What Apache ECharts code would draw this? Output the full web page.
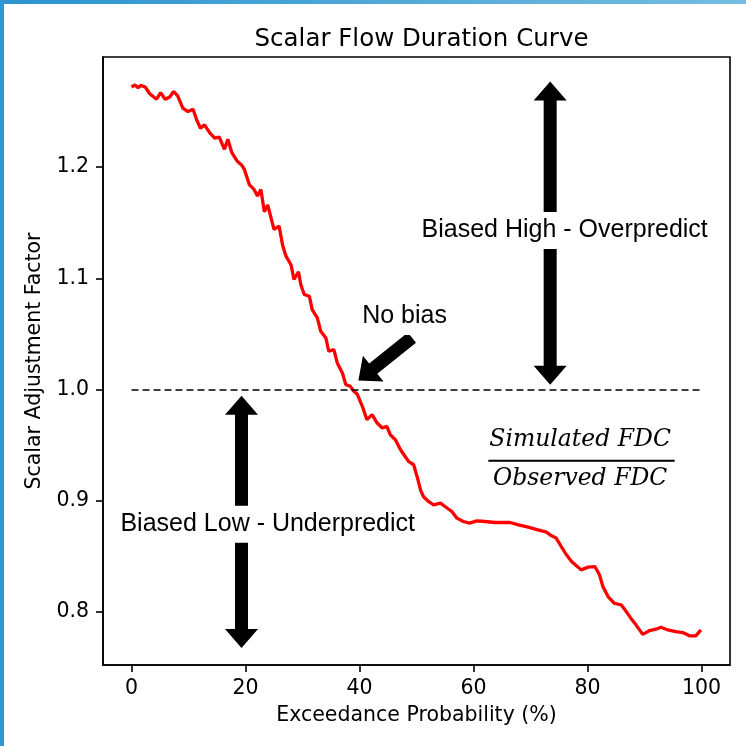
<!DOCTYPE html>
<html>
<head>
<meta charset="utf-8">
<title>Scalar Flow Duration Curve</title>
<script src="https://cdn.jsdelivr.net/npm/echarts@6/dist/echarts.min.js"></script>
<style>
  html, body { margin: 0; padding: 0; background: #fff; }
  #main { width: 746px; height: 746px; }
</style>
</head>
<body>
<div id="main"></div>
<script>
// values
let exceedance = [
    0.0, 0.6, 1.15, 1.6, 2.4, 3.2, 4.4, 5.1, 5.9, 6.7, 7.4, 8.1, 9.0, 9.9, 10.8, 11.4, 12.1, 12.8, 13.7, 14.6,
    15.4, 16.3, 16.9, 17.6, 18.6, 19.3, 19.8, 20.7, 21.5, 22.1, 22.7, 23.3, 23.9, 24.5, 25.0, 25.9, 26.5, 27.1,
    28.0, 28.5, 29.3, 29.7, 30.3, 31.2, 31.7, 32.6, 33.2, 34.1, 34.6, 35.5, 36.1, 37.0, 37.6, 38.4, 39.0, 39.6,
    40.5, 41.3, 42.2, 43.1, 44.0, 44.8, 45.4, 46.3, 47.2, 47.8, 48.6, 49.5, 50.1, 50.7, 51.2, 52.1, 53.0, 54.2,
    55.0, 56.2, 57.1, 58.2, 59.3, 60.6, 62.0, 63.8, 65.5, 66.4, 67.9, 69.6, 71.3, 72.8, 73.7, 74.5, 75.4, 76.3,
    77.2, 78.0, 78.9, 80.1, 81.3, 82.1, 82.7, 83.6, 84.7, 85.9, 86.8, 87.6, 88.5, 89.7, 90.9, 92.0, 92.9, 94.1,
    95.5, 96.7, 97.9, 99.0, 99.9
];
let scalar = [
    1.272, 1.2738, 1.2714, 1.2735, 1.272, 1.266, 1.261, 1.267, 1.261, 1.263, 1.268, 1.264, 1.253, 1.250, 1.252, 1.243, 1.235, 1.238, 1.231, 1.226,
    1.227, 1.216, 1.225, 1.213, 1.205, 1.202, 1.198, 1.184, 1.180, 1.174, 1.180, 1.160, 1.166, 1.154, 1.144, 1.147, 1.130, 1.120,
    1.112, 1.099, 1.106, 1.0945, 1.0855, 1.084, 1.072, 1.0645, 1.0525, 1.0465, 1.0345, 1.036, 1.024, 1.015, 1.0045, 1.003, 0.9985, 0.996,
    0.985, 0.973, 0.9775, 0.970, 0.9655, 0.967, 0.9595, 0.955, 0.946, 0.9415, 0.9355, 0.9325, 0.922, 0.910, 0.904, 0.8995, 0.8965, 0.898,
    0.895, 0.8905, 0.8845, 0.8815, 0.880, 0.882, 0.8815, 0.8806, 0.8806, 0.8806, 0.8785, 0.8765, 0.874, 0.872, 0.8686, 0.8666, 0.859, 0.8516,
    0.8455, 0.842, 0.838, 0.8405, 0.841, 0.8336, 0.823, 0.814, 0.808, 0.8066, 0.8005, 0.7946, 0.7886, 0.780, 0.7835, 0.7847, 0.7865, 0.784,
    0.7825, 0.7817, 0.7787, 0.7787, 0.784
];
let xTicks = [0, 20, 40, 60, 80, 100];
let yTicks = [0.8, 0.9, 1.0, 1.1, 1.2];
let noBiasLevel = 1.0;

// arrows in data units: [fromX, fromY, toX, toY, headAtBothEnds]
let arrows = [
    [73.45, 1.0045, 73.45, 1.277, 1],
    [19.3, 0.7678, 19.3, 0.9945, 1],
    [49.2, 1.0467, 39.8, 1.0083, 0]
];
// notes in data units: [x, y, text]
let notes = [
    [76.0, 1.143, 'Biased High - Overpredict'],
    [23.9, 0.879, 'Biased Low - Underpredict'],
    [47.9, 1.0657, 'No bias']
];
// fraction: [centerX, numeratorY, barY, denominatorY, barFromX, barToX]
let fraction = [[78.7, 0.955, 0.9361, 0.920, 62.6, 95.3]];

function arrowPoints(a, b, both) {
    let w = 6.5, hw = 16.5, hl = 19;
    let dx = b[0] - a[0], dy = b[1] - a[1];
    let len = Math.sqrt(dx * dx + dy * dy);
    let ux = dx / len, uy = dy / len;
    let nx = -uy, ny = ux;
    let p = (base, d, k) => [base[0] + ux * d + nx * k, base[1] + uy * d + ny * k];
    if (both) {
        return [
            a, p(a, hl, hw), p(a, hl, w), p(b, -hl, w), p(b, -hl, hw), b,
            p(b, -hl, -hw), p(b, -hl, -w), p(a, hl, -w), p(a, hl, -hw)
        ];
    }
    return [p(a, 0, w), p(b, -hl, w), p(b, -hl, hw), b, p(b, -hl, -hw), p(b, -hl, -w), p(a, 0, -w)];
}

let axisFont = 'DejaVu Sans';

const option = {
    animation: false,
    title: {
        text: 'Scalar Flow Duration Curve',
        left: 416.5,
        top: 22,
        textAlign: 'center',
        textStyle: { fontFamily: axisFont, fontSize: 24.5, fontWeight: 'normal', color: '#000' }
    },
    graphic: [
        {
            type: 'rect', shape: { x: 0, y: 0, width: 746, height: 4 }, z: 100,
            style: { fill: new echarts.graphic.LinearGradient(0, 0, 1, 0, [
                { offset: 0, color: '#2b93cf' }, { offset: 1, color: '#74bde0' }]) }
        },
        { type: 'rect', shape: { x: 0, y: 0, width: 4, height: 746 }, z: 100, style: { fill: '#2e98d3' } }
    ],
    grid: {
        left: 103, top: 57, right: 16, bottom: 81,
        show: true, borderColor: '#000', borderWidth: 1.6, backgroundColor: '#fff'
    },
    xAxis: {
        type: 'value', min: -5, max: 105,
        name: 'Exceedance Probability (%)', nameLocation: 'middle', nameGap: 40,
        nameTextStyle: { fontFamily: axisFont, fontSize: 20.5, color: '#000' },
        axisLine: { show: true, onZero: false, lineStyle: { color: '#000', width: 1.6 } },
        axisTick: { show: true, length: 7, customValues: xTicks, lineStyle: { color: '#000', width: 1.6 } },
        axisLabel: { customValues: xTicks, margin: 13, fontFamily: axisFont, fontSize: 20.5, color: '#000' },
        splitLine: { show: false }
    },
    yAxis: {
        type: 'value', min: 0.7525, max: 1.299,
        name: 'Scalar Adjustment Factor', nameLocation: 'middle', nameGap: 56,
        nameTextStyle: { fontFamily: axisFont, fontSize: 20.5, color: '#000' },
        axisLine: { show: true, onZero: false, lineStyle: { color: '#000', width: 1.6 } },
        axisTick: { show: true, length: 7, customValues: yTicks, lineStyle: { color: '#000', width: 1.6 } },
        axisLabel: {
            customValues: yTicks, margin: 14, fontFamily: axisFont, fontSize: 20.5, color: '#000',
            formatter: v => v.toFixed(1)
        },
        splitLine: { show: false }
    },
    series: [
        {
            type: 'line',
            data: exceedance.map((x, i) => [x, scalar[i]]),
            symbol: 'none',
            lineStyle: { color: '#ff0000', width: 3.3 },
            z: 3,
            markLine: {
                silent: true, symbol: 'none', label: { show: false },
                lineStyle: { color: '#000', type: [7, 4], width: 1.7 },
                data: [[{ coord: [0, noBiasLevel] }, { coord: [100, noBiasLevel] }]]
            }
        },
        {
            type: 'custom', silent: true, z: 4,
            data: arrows,
            renderItem: function (params, api) {
                let a = api.coord([api.value(0), api.value(1)]);
                let b = api.coord([api.value(2), api.value(3)]);
                return { type: 'polygon', shape: { points: arrowPoints(a, b, api.value(4)) }, style: { fill: '#000' } };
            }
        },
        {
            type: 'custom', silent: true, z: 5,
            data: notes.map(n => [n[0], n[1]]),
            renderItem: function (params, api) {
                let p = api.coord([api.value(0), api.value(1)]);
                return {
                    type: 'text', x: p[0], y: p[1],
                    style: {
                        text: notes[params.dataIndex][2],
                        font: '25px "Liberation Sans"', fill: '#000',
                        align: 'center', verticalAlign: 'middle',
                        backgroundColor: '#fff', padding: [6, 3]
                    }
                };
            }
        },
        {
            type: 'custom', silent: true, z: 5,
            data: fraction,
            renderItem: function (params, api) {
                let num = api.coord([api.value(0), api.value(1)]);
                let den = api.coord([api.value(0), api.value(3)]);
                let b1 = api.coord([api.value(4), api.value(2)]);
                let b2 = api.coord([api.value(5), api.value(2)]);
                let font = 'italic 23.5px "DejaVu Serif"';
                return {
                    type: 'group',
                    children: [
                        { type: 'text', x: num[0], y: num[1], style: { text: 'Simulated FDC', font: font, fill: '#000', align: 'center', verticalAlign: 'middle' } },
                        { type: 'line', shape: { x1: b1[0], y1: b1[1], x2: b2[0], y2: b2[1] }, style: { stroke: '#000', lineWidth: 2 } },
                        { type: 'text', x: den[0], y: den[1], style: { text: 'Observed FDC', font: font, fill: '#000', align: 'center', verticalAlign: 'middle' } }
                    ]
                };
            }
        }
    ]
};

let plot = echarts.init(document.querySelector('#main'), null, { renderer: 'canvas' });
plot.setOption(option);
</script>
</body>
</html>
